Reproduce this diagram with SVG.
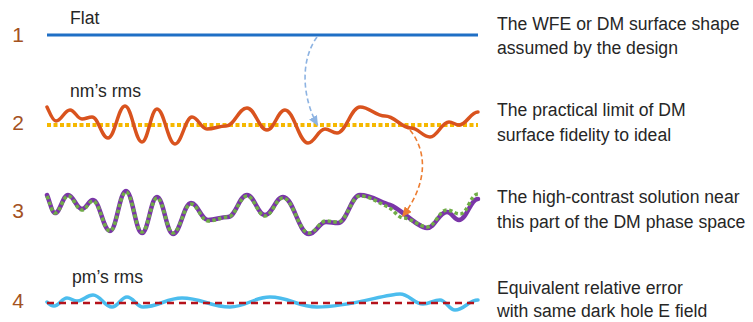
<svg xmlns="http://www.w3.org/2000/svg" width="753" height="322" viewBox="0 0 753 322">
<style>
text{font-family:"Liberation Sans",Arial,sans-serif;fill:#262626}
.num{font-size:21px;fill:#a4521f;text-anchor:middle}
.lbl{font-size:17.6px}
.desc{font-size:17.6px}
.w{fill:none;stroke-linecap:round;stroke-linejoin:round}
</style>
<defs>
<marker id="ahB" markerUnits="userSpaceOnUse" markerWidth="11" markerHeight="9" refX="10" refY="4.5" orient="auto"><path d="M0,0 L10,4.5 L0,9 z" fill="#8db3e2"/></marker>
<marker id="ahO" markerUnits="userSpaceOnUse" markerWidth="11" markerHeight="9" refX="10" refY="4.5" orient="auto"><path d="M0,0 L10,4.5 L0,9 z" fill="#ed7d31"/></marker>
</defs>
<rect width="753" height="322" fill="#ffffff"/>

<g id="row1">
<text class="num" x="18" y="42">1</text>
<text class="lbl" x="70" y="24">Flat</text>
<line x1="47" y1="35" x2="478" y2="35" stroke="#1f6fc5" stroke-width="3"/>
<text class="desc" x="497" y="30">The WFE or DM surface shape</text>
<text class="desc" x="497" y="54">assumed by the design</text>
</g>

<g id="row2">
<text class="num" x="18" y="130">2</text>
<text class="lbl" x="70" y="97">nm’s rms</text>
<line x1="47" y1="125" x2="478" y2="125" stroke="#f5b800" stroke-width="4" stroke-dasharray="4 2.5"/>
<path class="w" stroke="#d9531e" stroke-width="3.5" d="M47,107 C49,111 52.4,121 56,121 C61.6,121 64.4,110 70,110 C74.8,110 77.2,119 82,119 C86,119 88,117 92,117 C98.4,117 101.6,138 108,138 C114.8,138 118.2,106 125,106 C131.8,106 135.2,142 142,142 C148,142 151,109 157,109 C164.2,109 167.8,144 175,144 C181.8,144 185.2,117 192,117 C198,117 201,129 207,129 C214.6,129 218.4,126 226,126 C234.4,126 238.6,108 247,108 C255,108 259,130 267,130 C274.2,130 277.8,110 285,110 C294.2,110 298.8,143 308,143 C314.8,143 318.2,129 325,129 C329.8,129 332.2,133 337,133 C346.2,133 350.8,107 360,107 C370,107 375,116 385,116 C395.4,116 400.6,128 411,128 C418.6,128 422.4,137 430,137 C437.6,137 441.4,122 449,122 C453,122 455,125 459,125 C466.6,125 470.4,112 478,112"/>
<text class="desc" x="497" y="116">The practical limit of DM</text>
<text class="desc" x="497" y="141">surface fidelity to ideal</text>
</g>

<g id="row3">
<text class="num" x="18" y="218">3</text>
<path class="w" stroke="#7a35a8" stroke-width="4.5" d="M47,195 C50,202 52,213 55,213 C60.2,213 62.8,195 68,195 C73.6,195 76.4,209 82,209 C86.4,209 88.6,200 93,200 C99.8,200 103.2,231 110,231 C116.4,231 119.6,191 126,191 C132.4,191 135.6,233 142,233 C148,233 151,197 157,197 C163.4,197 166.6,234 173,234 C180.2,234 183.8,203 191,203 C197.8,203 201.2,220 208,220 C216,220 220,217 228,217 C235.6,217 239.4,195 247,195 C254.2,195 257.8,215 265,215 C272.2,215 275.8,197 283,197 C293.4,197 298.6,234 309,234 C315.8,234 319.2,222 326,222 C330.8,222 333.2,223 338,223 C346.8,223 351.2,195 360,195 C371,195 380,202 390,205 C400,208 418,228 427,228 C435,228 439,212 447,212 C451.8,212 454.2,220 459,220 C466.6,220 470.4,199 478,199"/>
<path fill="none" stroke="#70ad47" stroke-width="3.5" stroke-dasharray="3.5 2.5" d="M47,196 C50,203 52,213 55,213 C60.2,213 62.8,196 68,196 C73.6,196 76.4,210 82,210 C86.4,210 88.6,201 93,201 C99.8,201 103.2,231 110,231 C116.4,231 119.6,192 126,192 C132.4,192 135.6,232 142,232 C148,232 151,198 157,198 C163.4,198 166.6,233 173,233 C180.2,233 183.8,204 191,204 C197.8,204 201.2,221 208,221 C216,221 220,217 228,217 C235.6,217 239.4,196 247,196 C254.2,196 257.8,216 265,216 C272.2,216 275.8,198 283,198 C293.4,198 298.6,233 309,233 C315.8,233 319.2,221 326,221 C330.8,221 333.2,222 338,222 C346.8,222 351.2,196 360,196 C371,196 380,204 388,207 C394,210 398,218 404,218 C411,218 420,227 427,227 C435,227 439,210 447,210 C452,210 455,214 460,214 C467.6,214 470.4,194 478,194"/>
<text class="desc" x="497" y="203">The high-contrast solution near</text>
<text class="desc" x="497" y="228">this part of the DM phase space</text>
</g>

<g id="row4">
<text class="num" x="18" y="308">4</text>
<text class="lbl" x="72" y="283">pm’s rms</text>
<path class="w" stroke="#4cbdee" stroke-width="3.5" d="M47,302 C49,304 51,306 54,306 C59.2,306 61.8,298 67,298 C71,298 73,301 77,301 C83.4,301 86.6,295 93,295 C100.6,295 104.4,307 112,307 C118,307 121,297 127,297 C133.4,297 136.6,307 143,307 C158.6,307 166.4,298 182,298 C201.2,298 210.8,307 230,307 C246,307 254,297 270,297 C288.8,297 298.2,307 317,307 C350,307 385,294 400,294 C409.2,294 413.8,304 423,304 C429.8,304 433.2,300 440,300 C446,300 449,310 455,310 C464.2,310 468.8,300 478,300"/>
<line x1="47" y1="303" x2="478" y2="303" stroke="#b5121b" stroke-width="2.5" stroke-dasharray="7 5"/>
<text class="desc" x="497" y="294">Equivalent relative error</text>
<text class="desc" x="497" y="317">with same dark hole E field</text>
</g>

<g id="connectors">
<path d="M317,37 C299,62 303,100 318,126" fill="none" stroke="#8db3e2" stroke-width="1.6" stroke-dasharray="5 3" marker-end="url(#ahB)"/>
<path d="M410,130 C432,158 422,192 402,217" fill="none" stroke="#ed7d31" stroke-width="1.6" stroke-dasharray="5 3" marker-end="url(#ahO)"/>
</g>
</svg>
